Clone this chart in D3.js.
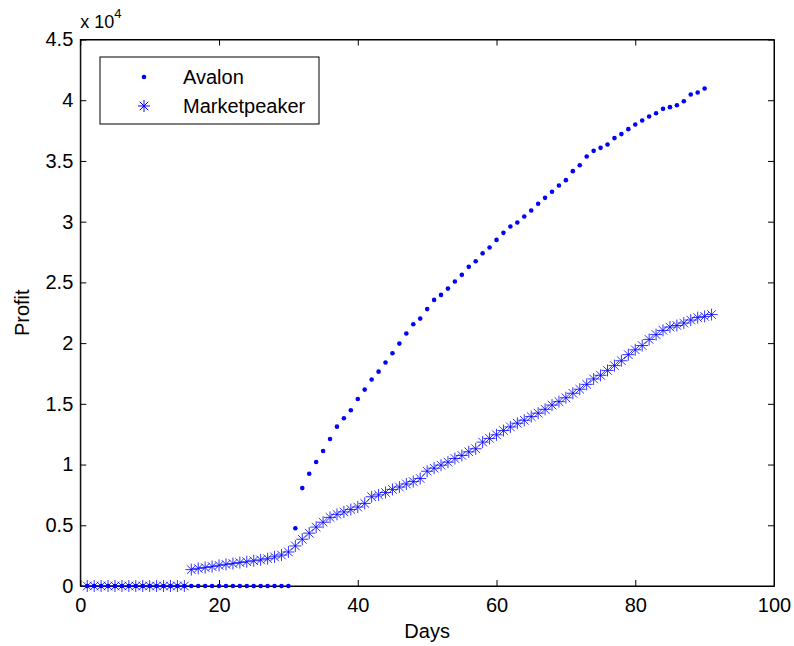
<!DOCTYPE html>
<html><head><meta charset="utf-8">
<script src="https://cdn.jsdelivr.net/npm/d3@7"></script>
<style>body{margin:0;background:#fff}svg{display:block}text{font-family:"Liberation Sans",Arial,sans-serif}</style>
</head><body><svg id="c" width="794" height="646"></svg>
<script>
const days = d3.range(1, 92);
const avalonDays = d3.range(1, 91);
const avalon = [0,0,0,0,0,0,0,0,0,0, 0,0,0,0,0,0,0,0,0,0, 0,0,0,0,0,0,0,0,0,0,
  4750,8060,9240,10210,11120,12110,13120,13810,14470,15400,
  16170,17000,17650,18400,19170,19960,20790,21550,22020,22800,
  23560,23970,24490,25070,25620,26280,26740,27400,27870,28500,
  29080,29600,29930,30420,30920,31470,31960,32460,32980,33420,
  34160,34650,35360,35830,36080,36350,36880,37210,37620,38000,
  38330,38660,38930,39290,39430,39590,39920,40470,40640,40960];
const marketpeaker = [0,0,0,0,0,0,0,0,0,0, 0,0,0,0,0,
  1350,1450,1520,1600,1700,1780,1850,1930,2000,2080,2150,2250,2400,2550,2800,
  3300,3850,4350,4850,5250,5650,5900,6100,6300,6500,
  6800,7350,7500,7700,7950,8150,8400,8600,8850,9450,
  9700,9950,10200,10500,10750,11050,11300,11850,12150,12450,
  12800,13100,13400,13650,13950,14230,14550,14900,15180,15500,
  15870,16200,16600,17050,17350,17750,18150,18550,19050,19450,
  19800,20300,20700,21050,21320,21450,21650,21900,22100,22200,22350];
const xTicks = [0,20,40,60,80,100];
const yTicks = [0,5000,10000,15000,20000,25000,30000,35000,40000,45000];
const yTickLabels = ["0","0.5","1","1.5","2","2.5","3","3.5","4","4.5"];
const seriesNames = ["Avalon","Marketpeaker"];

const svg = d3.select("#c");
const L=80.3, R=774, T=39.5, B=586;
const x = d3.scaleLinear().domain([0,100]).range([L,R]);
const y = d3.scaleLinear().domain([0,45000]).range([B,T]);
const blue = "#0000ff";
const fs = "20px";

svg.append("rect").attr("x",L).attr("y",T).attr("width",R-L).attr("height",B-T)
  .attr("fill","#fff").attr("stroke","#000").attr("stroke-width",1);

const xb = svg.append("g").attr("transform",`translate(0,${B})`)
  .call(d3.axisBottom(x).tickValues(xTicks).tickSizeInner(-6).tickSizeOuter(0).tickPadding(12));
const xt = svg.append("g").attr("transform",`translate(0,${T})`)
  .call(d3.axisTop(x).tickValues(xTicks).tickSizeInner(-6).tickSizeOuter(0).tickFormat(""));
const yl = svg.append("g").attr("transform",`translate(${L},0)`)
  .call(d3.axisLeft(y).tickValues(yTicks).tickSizeInner(-6).tickSizeOuter(0).tickPadding(7)
    .tickFormat((d,i)=>yTickLabels[i]));
const yr = svg.append("g").attr("transform",`translate(${R},0)`)
  .call(d3.axisRight(y).tickValues(yTicks).tickSizeInner(-6).tickSizeOuter(0).tickFormat(""));
[xb,xt,yl,yr].forEach(g=>{
  g.select(".domain").attr("stroke","#000");
  g.selectAll(".tick line").attr("stroke","#000");
  g.selectAll("text").attr("font-size",fs).attr("fill","#000").attr("font-family",'"Liberation Sans",Arial,sans-serif');
});

const ex = svg.append("text").attr("x",L).attr("y",28).attr("font-size","18px").attr("fill","#000");
ex.append("tspan").text("x 10");
ex.append("tspan").attr("dy",-10).attr("font-size","13px").text("4");

svg.append("text").attr("x",(L+R)/2).attr("y",638).attr("text-anchor","middle")
  .attr("font-size",fs).text("Days");
svg.append("text").attr("transform",`translate(29,${(T+B)/2}) rotate(-90)`)
  .attr("text-anchor","middle").attr("font-size",fs).text("Profit");

function star(cx,cy){
  const a=6, b=4.3;
  return `M${cx-a},${cy}L${cx+a},${cy}M${cx},${cy-a}L${cx},${cy+a}`+
         `M${cx-b},${cy-b}L${cx+b},${cy+b}M${cx-b},${cy+b}L${cx+b},${cy-b}`;
}

const plot = svg.append("g");
plot.selectAll("path.mp").data(days).join("path").attr("class","mp")
  .attr("d",(d,i)=>star(x(d),y(marketpeaker[i])))
  .attr("stroke",blue).attr("stroke-width",1).attr("fill","none").attr("opacity",0.8);
plot.selectAll("circle.av").data(avalonDays).join("circle").attr("class","av")
  .attr("cx",d=>x(d)).attr("cy",(d,i)=>y(avalon[i])).attr("r",2.3).attr("fill",blue);

const lg = svg.append("g");
lg.append("rect").attr("x",100).attr("y",57).attr("width",219).attr("height",67)
  .attr("fill","#fff").attr("stroke","#000").attr("stroke-width",1);
lg.append("circle").attr("cx",144).attr("cy",77).attr("r",2.3).attr("fill",blue);
lg.append("path").attr("d",star(144,106)).attr("stroke",blue).attr("stroke-width",1).attr("fill","none");
lg.append("text").attr("x",183).attr("y",84).attr("font-size",fs).text(seriesNames[0]);
lg.append("text").attr("x",183).attr("y",113).attr("font-size",fs).text(seriesNames[1]);
</script></body></html>
